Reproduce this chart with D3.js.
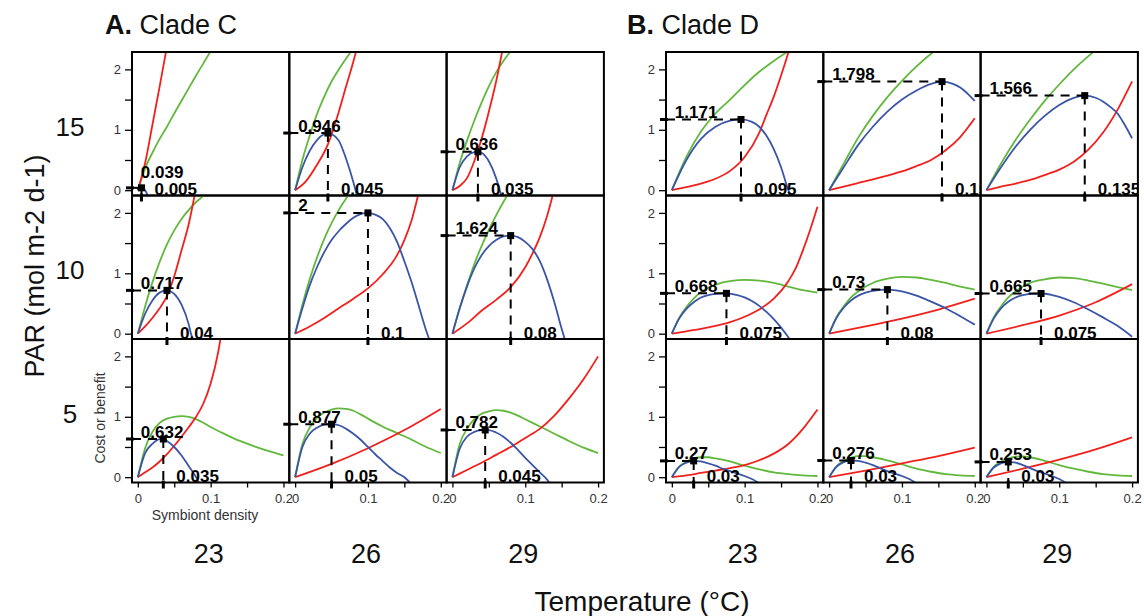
<!DOCTYPE html>
<html>
<head>
<meta charset="utf-8">
<script src="https://cdn.jsdelivr.net/npm/d3@7"></script>
<style>
  body { margin: 0; background: #fff; }
  svg text { font-family: "Liberation Sans", Arial, sans-serif; }
</style>
</head>
<body>
<svg id="chart" width="1144" height="616"></svg>
<script>
// panels are row-major: PAR 15, 10, 5  x  temperature 23, 26, 29
const temps = ['23', '26', '29'];
const pars = ['15', '10', '5'];

// optimum symbiont density (x) and net benefit (y) per panel
const optXC = [0.005, 0.045, 0.035, 0.04, 0.1, 0.08, 0.035, 0.05, 0.045];
const optYC = [0.039, 0.946, 0.636, 0.717, 2, 1.624, 0.632, 0.877, 0.782];
const optXD = [0.095, 0.155, 0.135, 0.075, 0.08, 0.075, 0.03, 0.03, 0.03];
const optYD = [1.171, 1.798, 1.566, 0.668, 0.73, 0.665, 0.27, 0.276, 0.253];

// benefit (green) as [density, value]
const benefitC = [
  [[0,0],[0.01,0.36],[0.02,0.62],[0.03,0.85],[0.04,1.05],[0.05,1.27],[0.06,1.48],[0.07,1.69],[0.08,1.9],[0.09,2.1],[0.1,2.3],[0.11,2.48]],
  [[0,0],[0.01,0.5],[0.02,0.9],[0.03,1.26],[0.04,1.55],[0.05,1.8],[0.06,2.0],[0.07,2.18],[0.08,2.35]],
  [[0,0],[0.01,0.45],[0.02,0.82],[0.03,1.15],[0.04,1.45],[0.05,1.72],[0.06,1.95],[0.07,2.14],[0.08,2.3]],
  [[0,0],[0.01,0.45],[0.02,0.85],[0.03,1.19],[0.04,1.48],[0.05,1.71],[0.06,1.9],[0.07,2.05],[0.08,2.18],[0.09,2.28],[0.1,2.38]],
  [[0,0],[0.01,0.48],[0.02,0.9],[0.03,1.26],[0.04,1.57],[0.05,1.83],[0.06,2.05],[0.07,2.24],[0.08,2.4]],
  [[0,0],[0.01,0.42],[0.02,0.8],[0.03,1.15],[0.04,1.45],[0.05,1.72],[0.06,1.96],[0.07,2.18],[0.08,2.38]],
  [[0,0],[0.01,0.48],[0.02,0.75],[0.03,0.9],[0.04,0.97],[0.05,1.0],[0.06,1.01],[0.07,1.0],[0.08,0.96],[0.09,0.9],[0.1,0.83],[0.12,0.71],[0.14,0.6],[0.16,0.51],[0.18,0.43],[0.2,0.36]],
  [[0,0],[0.01,0.55],[0.02,0.82],[0.03,0.98],[0.04,1.07],[0.05,1.12],[0.06,1.14],[0.07,1.13],[0.08,1.1],[0.09,1.04],[0.1,0.97],[0.12,0.84],[0.14,0.73],[0.16,0.62],[0.18,0.5],[0.2,0.4]],
  [[0,0],[0.01,0.55],[0.02,0.8],[0.03,0.96],[0.04,1.05],[0.05,1.09],[0.06,1.11],[0.07,1.1],[0.08,1.07],[0.09,1.02],[0.1,0.96],[0.12,0.84],[0.14,0.72],[0.16,0.6],[0.18,0.49],[0.2,0.4]]
];
const benefitD = [
  [[0,0],[0.02,0.55],[0.04,0.97],[0.06,1.27],[0.08,1.5],[0.1,1.74],[0.12,1.96],[0.14,2.14],[0.16,2.3]],
  [[0,0],[0.02,0.44],[0.04,0.87],[0.06,1.23],[0.08,1.54],[0.1,1.81],[0.12,2.05],[0.14,2.26],[0.15,2.35]],
  [[0,0],[0.02,0.44],[0.04,0.83],[0.06,1.17],[0.08,1.48],[0.1,1.75],[0.12,2.0],[0.14,2.22],[0.15,2.32]],
  [[0,0],[0.01,0.26],[0.02,0.44],[0.03,0.58],[0.04,0.69],[0.05,0.76],[0.06,0.81],[0.07,0.85],[0.08,0.87],[0.1,0.89],[0.12,0.88],[0.14,0.84],[0.16,0.78],[0.18,0.72],[0.2,0.68]],
  [[0,0],[0.01,0.27],[0.02,0.45],[0.03,0.6],[0.04,0.7],[0.05,0.78],[0.06,0.84],[0.08,0.91],[0.1,0.94],[0.12,0.93],[0.14,0.89],[0.16,0.84],[0.18,0.78],[0.2,0.73]],
  [[0,0],[0.01,0.27],[0.02,0.45],[0.03,0.6],[0.04,0.7],[0.05,0.78],[0.06,0.84],[0.08,0.9],[0.1,0.93],[0.12,0.92],[0.14,0.88],[0.16,0.83],[0.18,0.77],[0.2,0.72]],
  [[0,0],[0.01,0.17],[0.02,0.26],[0.03,0.31],[0.04,0.33],[0.05,0.33],[0.06,0.31],[0.08,0.26],[0.1,0.19],[0.12,0.13],[0.14,0.08],[0.16,0.05],[0.18,0.03],[0.2,0.02]],
  [[0,0],[0.01,0.18],[0.02,0.27],[0.03,0.32],[0.04,0.35],[0.05,0.35],[0.06,0.33],[0.08,0.28],[0.1,0.21],[0.12,0.14],[0.14,0.09],[0.16,0.05],[0.18,0.03],[0.2,0.02]],
  [[0,0],[0.01,0.17],[0.02,0.26],[0.03,0.31],[0.04,0.34],[0.05,0.345],[0.06,0.33],[0.08,0.27],[0.1,0.2],[0.12,0.14],[0.14,0.09],[0.16,0.05],[0.18,0.03],[0.2,0.02]]
];

// cost (red)
const costC = [
  [[0,0],[0.01,0.45],[0.02,1.08],[0.03,1.72],[0.04,2.38]],
  [[0,0],[0.015,0.15],[0.03,0.42],[0.045,0.76],[0.06,1.3],[0.07,1.72],[0.08,2.13],[0.09,2.6]],
  [[0,0],[0.01,0.07],[0.02,0.2],[0.03,0.48],[0.04,0.85],[0.05,1.3],[0.06,1.8],[0.07,2.4]],
  [[0,0],[0.01,0.12],[0.02,0.26],[0.03,0.42],[0.04,0.62],[0.05,0.95],[0.06,1.38],[0.07,1.82],[0.08,2.42]],
  [[0,0],[0.02,0.12],[0.04,0.26],[0.06,0.42],[0.08,0.58],[0.1,0.75],[0.12,0.98],[0.14,1.3],[0.15,1.55],[0.16,1.88],[0.17,2.35]],
  [[0,0],[0.02,0.17],[0.04,0.38],[0.06,0.56],[0.08,0.77],[0.1,1.1],[0.11,1.33],[0.12,1.6],[0.13,1.95],[0.14,2.4]],
  [[0,0],[0.01,0.08],[0.02,0.16],[0.03,0.26],[0.04,0.38],[0.05,0.52],[0.06,0.67],[0.07,0.83],[0.08,1.0],[0.09,1.22],[0.1,1.55],[0.11,2.05],[0.115,2.4]],
  [[0,0],[0.05,0.22],[0.1,0.48],[0.15,0.78],[0.2,1.13]],
  [[0,0],[0.02,0.12],[0.04,0.24],[0.06,0.37],[0.08,0.5],[0.1,0.65],[0.12,0.8],[0.14,1.02],[0.16,1.3],[0.18,1.62],[0.2,2.0]]
];
const costD = [
  [[0,0],[0.02,0.05],[0.04,0.11],[0.06,0.19],[0.08,0.32],[0.1,0.55],[0.12,0.95],[0.13,1.25],[0.14,1.55],[0.15,1.9],[0.16,2.28],[0.165,2.5]],
  [[0,0],[0.02,0.06],[0.04,0.12],[0.06,0.18],[0.08,0.24],[0.1,0.31],[0.12,0.4],[0.14,0.5],[0.16,0.66],[0.18,0.88],[0.2,1.19]],
  [[0,0],[0.02,0.06],[0.04,0.11],[0.06,0.17],[0.08,0.25],[0.1,0.34],[0.12,0.47],[0.14,0.67],[0.16,0.95],[0.18,1.33],[0.2,1.8]],
  [[0,0],[0.02,0.04],[0.04,0.08],[0.06,0.13],[0.08,0.19],[0.1,0.28],[0.12,0.4],[0.14,0.58],[0.16,0.87],[0.17,1.08],[0.18,1.38],[0.19,1.72],[0.2,2.1]],
  [[0,0],[0.05,0.12],[0.1,0.25],[0.15,0.4],[0.2,0.58]],
  [[0,0],[0.05,0.14],[0.1,0.3],[0.15,0.52],[0.2,0.82]],
  [[0,0],[0.02,0.03],[0.04,0.07],[0.06,0.11],[0.08,0.15],[0.1,0.2],[0.12,0.28],[0.14,0.39],[0.16,0.55],[0.18,0.8],[0.2,1.12]],
  [[0,0],[0.05,0.11],[0.1,0.23],[0.15,0.35],[0.2,0.49]],
  [[0,0],[0.05,0.14],[0.1,0.29],[0.15,0.46],[0.2,0.66]]
];

// net benefit (blue)
const netC = [
  [[0,0],[0.0025,0.03],[0.005,0.039],[0.0075,0.03],[0.01,0.0],[0.015,-0.13]],
  [[0,0],[0.01,0.38],[0.02,0.65],[0.03,0.83],[0.04,0.93],[0.045,0.946],[0.05,0.93],[0.06,0.82],[0.07,0.52],[0.08,0.13],[0.085,-0.1]],
  [[0,0],[0.01,0.38],[0.02,0.56],[0.03,0.63],[0.035,0.636],[0.04,0.62],[0.05,0.48],[0.06,0.2],[0.065,0],[0.07,-0.25]],
  [[0,0],[0.01,0.33],[0.02,0.55],[0.03,0.68],[0.04,0.717],[0.05,0.66],[0.06,0.48],[0.07,0.15],[0.073,0],[0.078,-0.15]],
  [[0,0],[0.01,0.42],[0.02,0.8],[0.03,1.1],[0.04,1.35],[0.05,1.55],[0.06,1.7],[0.07,1.82],[0.08,1.92],[0.09,1.98],[0.1,2.0],[0.11,1.97],[0.12,1.9],[0.13,1.75],[0.14,1.52],[0.15,1.2],[0.16,0.85],[0.17,0.45],[0.18,0.05],[0.185,-0.12]],
  [[0,0],[0.01,0.42],[0.02,0.78],[0.03,1.08],[0.04,1.3],[0.05,1.45],[0.06,1.55],[0.07,1.61],[0.08,1.624],[0.09,1.6],[0.1,1.52],[0.11,1.4],[0.12,1.2],[0.13,0.9],[0.14,0.52],[0.15,0.08],[0.155,-0.12]],
  [[0,0],[0.01,0.4],[0.02,0.55],[0.03,0.63],[0.035,0.632],[0.04,0.6],[0.05,0.5],[0.06,0.36],[0.07,0.18],[0.08,0.0],[0.085,-0.12]],
  [[0,0],[0.01,0.5],[0.02,0.72],[0.03,0.82],[0.04,0.87],[0.05,0.877],[0.06,0.86],[0.07,0.8],[0.08,0.72],[0.09,0.62],[0.1,0.5],[0.11,0.38],[0.12,0.27],[0.13,0.16],[0.14,0.07],[0.15,0.0],[0.16,-0.12]],
  [[0,0],[0.01,0.47],[0.02,0.67],[0.03,0.75],[0.04,0.78],[0.045,0.782],[0.05,0.78],[0.06,0.74],[0.07,0.67],[0.08,0.57],[0.09,0.45],[0.1,0.32],[0.11,0.2],[0.12,0.08],[0.13,-0.04],[0.135,-0.12]]
];
const netD = [
  [[0,0],[0.02,0.5],[0.04,0.85],[0.06,1.05],[0.08,1.15],[0.095,1.171],[0.11,1.13],[0.12,1.05],[0.13,0.9],[0.14,0.68],[0.15,0.38],[0.16,0.0],[0.165,-0.15]],
  [[0,0],[0.02,0.38],[0.04,0.75],[0.06,1.05],[0.08,1.3],[0.1,1.5],[0.12,1.65],[0.14,1.76],[0.155,1.798],[0.17,1.76],[0.18,1.7],[0.19,1.6],[0.2,1.48]],
  [[0,0],[0.02,0.38],[0.04,0.72],[0.06,1.0],[0.08,1.23],[0.1,1.41],[0.12,1.53],[0.135,1.566],[0.15,1.53],[0.16,1.47],[0.17,1.38],[0.18,1.27],[0.19,1.08],[0.2,0.86]],
  [[0,0],[0.01,0.25],[0.02,0.41],[0.03,0.52],[0.04,0.6],[0.05,0.64],[0.06,0.66],[0.075,0.668],[0.09,0.64],[0.1,0.6],[0.11,0.54],[0.12,0.46],[0.13,0.36],[0.14,0.24],[0.15,0.1],[0.16,-0.06],[0.165,-0.15]],
  [[0,0],[0.01,0.26],[0.02,0.43],[0.03,0.55],[0.04,0.63],[0.05,0.68],[0.06,0.71],[0.08,0.73],[0.1,0.7],[0.12,0.63],[0.14,0.53],[0.16,0.42],[0.18,0.29],[0.2,0.15]],
  [[0,0],[0.01,0.25],[0.02,0.42],[0.03,0.53],[0.04,0.6],[0.05,0.64],[0.06,0.66],[0.075,0.665],[0.09,0.64],[0.1,0.61],[0.12,0.52],[0.14,0.4],[0.16,0.27],[0.18,0.13],[0.2,-0.05]],
  [[0,0],[0.01,0.17],[0.02,0.24],[0.03,0.27],[0.04,0.26],[0.05,0.23],[0.06,0.19],[0.07,0.14],[0.08,0.1],[0.09,0.06],[0.1,0.02],[0.11,-0.03],[0.12,-0.1]],
  [[0,0],[0.01,0.17],[0.02,0.25],[0.03,0.276],[0.04,0.27],[0.05,0.24],[0.06,0.2],[0.07,0.15],[0.08,0.1],[0.09,0.06],[0.1,0.02],[0.11,-0.03],[0.12,-0.1]],
  [[0,0],[0.01,0.16],[0.02,0.23],[0.03,0.253],[0.04,0.24],[0.05,0.2],[0.06,0.15],[0.07,0.1],[0.08,0.06],[0.09,0.02],[0.1,-0.03],[0.11,-0.1]]
];

const clades = [
  { letter: 'A.', name: 'Clade C', benefit: benefitC, cost: costC, net: netC, optX: optXC, optY: optYC },
  { letter: 'B.', name: 'Clade D', benefit: benefitD, cost: costD, net: netD, optX: optXD, optY: optYD }
];

const GREEN = '#62b83c', RED = '#f2201c', BLUE = '#3a55a8';
const W = 157.3, H = 143.5;
const groupLeft = [132, 666];
const titleX = [105, 627];
const rowTop = [52, 195.5, 339];

const svg = d3.select('#chart');
const line = d3.line().curve(d3.curveMonotoneX);

clades.forEach((cl, g) => {
    let title = svg.append('text')
        .attr('x', titleX[g])
        .attr('y', 34)
        .style('font-size', '27px')
        .attr('fill', '#111');
    title.append('tspan').style('font-weight', 'bold').text(cl.letter);
    title.append('tspan').text(' ' + cl.name);

    for (let r = 0; r < 3; r++) {
        for (let c = 0; c < 3; c++) {
            let i = r * 3 + c;
            let L = groupLeft[g] + c * W, T = rowTop[r];
            let x = d3.scaleLinear().domain([-0.008, 0.208]).range([L, L + W]);
            let y = d3.scaleLinear().domain([-0.088, 2.288]).range([T + H, T]);
            line.x(d => x(d[0])).y(d => y(d[1]));

            let clipId = `clip-${g}-${i}`;
            svg.append('clipPath').attr('id', clipId)
                .append('rect')
                .attr('x', L).attr('y', T)
                .attr('width', W).attr('height', H);
            let plot = svg.append('g').attr('clip-path', `url(#${clipId})`);

            [[cl.benefit[i], GREEN], [cl.cost[i], RED], [cl.net[i], BLUE]].forEach(([pts, col]) => {
                plot.append('path')
                    .attr('d', line(pts))
                    .attr('fill', 'none')
                    .attr('stroke', col)
                    .attr('stroke-width', 1.8);
            });

            // optimum marker: dashed guides, thick ticks on the border, square
            let ox = x(cl.optX[i]), oy = y(cl.optY[i]);
            let guides = svg.append('g').attr('stroke', '#000');
            guides.append('line')
                .attr('x1', L).attr('x2', ox).attr('y1', oy).attr('y2', oy)
                .attr('stroke-width', 2).attr('stroke-dasharray', '9,7');
            guides.append('line')
                .attr('x1', ox).attr('x2', ox).attr('y1', oy).attr('y2', T + H)
                .attr('stroke-width', 2).attr('stroke-dasharray', '9,7');
            guides.append('line')
                .attr('x1', L - 6).attr('x2', L + 2).attr('y1', oy).attr('y2', oy)
                .attr('stroke-width', 3);
            guides.append('line')
                .attr('x1', ox).attr('x2', ox).attr('y1', T + H - 2).attr('y2', T + H + 6)
                .attr('stroke-width', 3);
            svg.append('rect')
                .attr('x', ox - 3.5).attr('y', oy - 3.5)
                .attr('width', 7).attr('height', 7)
                .attr('fill', '#000');

            plot.append('text')
                .attr('x', x(0) + 3)
                .attr('y', Math.min(oy - 1.5, y(0) - 12))
                .style('font-size', '17px')
                .style('font-weight', 'bold')
                .text(String(cl.optY[i]));
            plot.append('text')
                .attr('x', ox + 13)
                .attr('y', y(0) + 5)
                .style('font-size', '17px')
                .style('font-weight', 'bold')
                .text(String(cl.optX[i]));

            svg.append('rect')
                .attr('x', L).attr('y', T)
                .attr('width', W).attr('height', H)
                .attr('fill', 'none')
                .attr('stroke', '#000')
                .attr('stroke-width', 2);

            if (c === 0) {
                let yAxis = d3.axisLeft(y)
                    .tickValues([0, 0.5, 1, 1.5, 2])
                    .tickSize(7)
                    .tickPadding(4)
                    .tickFormat(d => (d % 1 === 0 ? String(d) : ''));
                let ag = svg.append('g').attr('transform', `translate(${L},0)`).call(yAxis);
                ag.select('.domain').remove();
                ag.selectAll('line').attr('stroke', '#000').attr('stroke-width', 1.3);
                ag.selectAll('text').style('font-size', '13px').attr('fill', '#333')
                    .style('font-family', '"Liberation Sans", Arial, sans-serif');
            }
            if (r === 2) {
                let xAxis = d3.axisBottom(x)
                    .tickValues([0, 0.05, 0.1, 0.15, 0.2])
                    .tickSize(5)
                    .tickPadding(6)
                    .tickFormat(d => ([0, 0.1, 0.2].includes(d) ? String(d) : ''));
                let ag = svg.append('g').attr('transform', `translate(0,${T + H})`).call(xAxis);
                ag.select('.domain').remove();
                ag.selectAll('line').attr('stroke', '#000').attr('stroke-width', 1.3);
                ag.selectAll('text').style('font-size', '13px').attr('fill', '#333')
                    .style('font-family', '"Liberation Sans", Arial, sans-serif');

                svg.append('text')
                    .attr('x', x(0.1) - 2)
                    .attr('y', 563)
                    .attr('text-anchor', 'middle')
                    .style('font-size', '27px')
                    .attr('fill', '#111')
                    .text(temps[c]);
            }
        }
    }
});

// row labels (PAR levels) on the left only
pars.forEach((p, r) => {
    svg.append('text')
        .attr('x', 70)
        .attr('y', rowTop[r] + H / 2 + 12)
        .attr('text-anchor', 'middle')
        .style('font-size', '26px')
        .attr('fill', '#111')
        .text(p);
});

svg.append('text')
    .attr('transform', 'translate(44,266) rotate(-90)')
    .attr('text-anchor', 'middle')
    .style('font-size', '27px')
    .attr('fill', '#111')
    .text('PAR (mol m-2 d-1)');

svg.append('text')
    .attr('x', 642).attr('y', 611)
    .attr('text-anchor', 'middle')
    .style('font-size', '28px')
    .attr('fill', '#111')
    .text('Temperature (°C)');

svg.append('text')
    .attr('transform', 'translate(105,418) rotate(-90)')
    .attr('text-anchor', 'middle')
    .style('font-size', '14px')
    .attr('fill', '#333')
    .text('Cost or benefit');

svg.append('text')
    .attr('x', 205).attr('y', 520)
    .attr('text-anchor', 'middle')
    .style('font-size', '14px')
    .attr('fill', '#333')
    .text('Symbiont density');
</script>
</body>
</html>
